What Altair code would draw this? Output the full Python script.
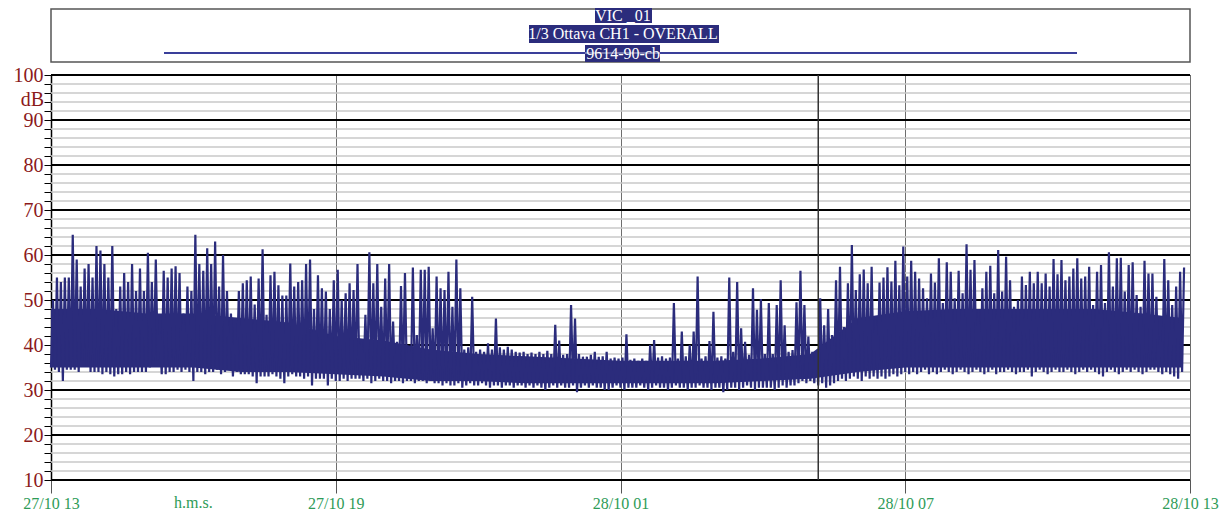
import altair as alt
import pandas as pd

# ---------------- data ----------------
START = pd.Timestamp("2023-10-27 13:00:00")
STEP_MIN = 5  # one floor/peak pair every 5 minutes

# peak level (dB) in each 5-minute slot, 27/10 13:00 -> 28/10 12:50
peak_db = [
    50, 55, 54, 55, 55, 64.5, 59, 53, 57, 58,
    55, 62, 61, 58, 55, 62, 48, 53, 56, 54,
    58, 52, 57, 52, 60.5, 54, 59, 43, 56.5, 55,
    57, 57.5, 56, 47, 53, 52, 64.5, 58, 56.5, 61.5,
    58, 63, 53, 60, 52, 47, 44, 52,
    53.7, 54.4, 55.2, 49, 54.8, 61.3, 46.7, 55.5, 56.3, 53.3,
    51, 51, 58.1, 53, 54, 54.4, 58, 59, 48, 55.5,
    52.6, 51.9, 48, 54.4, 56.7, 50, 51.5, 53.7, 52.2, 58,
    40.7, 46.7, 60.6, 53.7, 58, 48.5, 54.8, 58, 45.2, 40.7,
    53.1, 56, 39.3, 57.2, 42.2, 56.7, 56.7, 57.4, 43.7, 55.2,
    52.6, 52.2, 56.3, 48.5, 59, 52.6, 39, 39.5, 50.7, 38.5,
    39, 38.5, 40.4, 39, 45.9, 39.5, 39, 39.6, 39, 38.5,
    38.3, 38.5, 38, 38.3, 38, 38.5, 38, 38.7, 38, 44.5,
    41, 37.8, 38, 48.9, 45.9, 38, 37.4, 37.4, 37.8, 38.5,
    37.4, 37.5, 38.5, 37, 37.2, 37, 37.2, 42.4, 36.7,
    37, 36.5, 37, 36.5, 40, 41.1, 37.2, 37.5, 37, 37.2,
    49.3, 37, 43, 37.5, 40, 43, 55.2, 37, 37.5, 40.9,
    47.4, 37.2, 37.5, 37, 55, 38.5, 54, 43.7, 40.7, 37.8,
    52.6, 47.8, 50.2, 38, 49.3, 38, 48.9, 54.4, 44.4, 38.5,
    38.9, 49.5, 56.5, 48.9, 41.9, 38.5, 38.5, 50.4, 44.4, 48,
    42.2, 54.4, 57.4, 44, 53.7, 62.2, 52.2, 55.7, 56.8, 53.7,
    57.4, 46.3, 53.9, 55, 57.3, 54.1, 58.7, 53.3, 61.9, 55.2,
    58.7, 56.3, 54.8, 52.6, 50.4, 55.9, 53.9, 59.3, 49.3, 58.4,
    56.3, 50.4, 56.5, 51.5, 62.4, 56.7, 58.9, 48, 52.6, 56.3,
    57.6, 51.5, 61.1, 51.9, 59.6, 54.4, 48.5, 50, 55.2,
    53.3, 56.3, 53.7, 56.3, 53.7, 55.9, 53, 59.1, 55.7, 58.9,
    54.4, 55.2, 57, 59.3, 54.8, 55.2, 57.4, 48.9, 56.3, 57.8,
    49.3, 60.6, 53, 59.3, 59.4, 51.9, 57.8, 58.4, 51.1, 48.5,
    58.7, 55.9, 55.9, 50.7, 41.9, 59.1, 54.4, 48.9, 53, 56.3,
    57.2,
]

# floor level (dB) in each 5-minute slot
floor_db = [
    35, 34.5, 34, 32, 34.5, 34.5, 34.5, 34, 36.5, 35.5,
    34, 34, 34, 33.5, 34, 33.5, 33, 33.5, 33.5, 34,
    33.5, 34, 34, 34, 34, 35, 36.5, 36.5, 33.5, 33.5,
    34, 34, 34.5, 34, 34.5, 34, 32, 34, 34, 33.5,
    34, 34, 34.5, 33.5, 34, 34.5, 33, 34,
    33.5, 33.5, 33.5, 33, 31.5, 33, 33, 33, 33.5, 33,
    32.5, 31.5, 33, 33.5, 33, 33, 32.5, 33, 31, 32.5,
    32.5, 32.5, 31, 32.5, 32, 32, 32.5, 32, 32.5, 32.5,
    32.5, 32, 32.5, 31.5, 32, 32.5, 32, 32, 31.5, 32,
    32, 31.5, 32, 32, 31.5, 32, 32, 31.5, 32, 31.5,
    31.5, 31, 31.5, 31, 31, 31.5, 30.5, 31, 31.5, 31,
    31, 31.5, 31, 30.5, 31, 31, 30.5, 31, 31, 30.5,
    31, 31, 30.5, 31, 30.5, 31, 30.5, 30, 30.5, 31,
    30.5, 31, 30.5, 30.5, 31, 29.5, 30.5, 31, 30.5, 31,
    30.5, 30.5, 30, 30, 30.5, 31, 30.5, 30, 30.5,
    30.5, 30.5, 31, 30.5, 30, 30.5, 31, 30.5, 30.5, 30,
    30.5, 31, 30.5, 30.5, 30, 30.5, 30.5, 31, 30.5, 30.5,
    30, 30.5, 30.5, 29.5, 30, 30.5, 30.5, 30, 30.5, 31,
    30.5, 30, 30.5, 30.5, 30.5, 30.5, 30, 30.5, 31, 30.5,
    31, 31, 31.5, 32, 31.5, 32, 31.5, 31, 31.5, 30.5,
    31, 31.5, 32, 32.5, 32, 32.5, 33, 32.5, 32, 33,
    32.5, 33, 32.5, 33, 32.5, 33, 33.5, 33, 33.5, 34,
    33.5, 34, 33.5, 34, 34.5, 33.5, 34, 33.5, 34, 34.5,
    34, 33.5, 34, 34.5, 34, 33.5, 34, 34.5, 34, 33.5,
    34, 34.5, 33.5, 34, 34, 34.5, 34, 33.5, 34,
    34, 34.5, 33, 34, 34.5, 34, 33.5, 34, 34.5, 34,
    34, 34.5, 34, 33.5, 34, 34.5, 34, 34.5, 34, 33.5,
    33, 34, 34.5, 34, 33.5, 34, 34.5, 34, 34.5, 34,
    33.5, 34, 34.5, 34.5, 34, 33.5, 34, 33.5, 33, 32.5,
    34,
]
assert len(peak_db) == len(floor_db)

# dense (solid) part of the trace, hour by hour: 13h ... 12h, then 12:50
band_times = [
    "2023-10-27T13:00:00Z", "2023-10-27T14:00:00Z", "2023-10-27T15:00:00Z",
    "2023-10-27T16:00:00Z", "2023-10-27T17:00:00Z", "2023-10-27T18:00:00Z",
    "2023-10-27T19:00:00Z", "2023-10-27T20:00:00Z", "2023-10-27T21:00:00Z",
    "2023-10-27T22:00:00Z", "2023-10-27T23:00:00Z", "2023-10-28T00:00:00Z",
    "2023-10-28T01:00:00Z", "2023-10-28T02:00:00Z", "2023-10-28T03:00:00Z",
    "2023-10-28T04:00:00Z", "2023-10-28T05:00:00Z", "2023-10-28T06:00:00Z",
    "2023-10-28T07:00:00Z", "2023-10-28T08:00:00Z", "2023-10-28T09:00:00Z",
    "2023-10-28T10:00:00Z", "2023-10-28T11:00:00Z", "2023-10-28T12:00:00Z",
    "2023-10-28T12:50:00Z",
]
band_top_db = [48, 48, 47, 47, 46, 45, 42, 41, 39, 38, 37.5, 37,
               36.5, 36.5, 36.5, 37, 38, 46, 47.5, 48, 48, 48, 48, 47, 46]
band_bottom_db = [35, 35, 35, 35, 34, 34, 33.5, 33, 32, 32, 31.5, 31.5,
                  31.5, 31.5, 31.5, 32, 32.5, 34, 35, 35, 35, 35, 35, 35, 35]

y_major = [10, 20, 30, 40, 50, 60, 70, 80, 90, 100]
y_minor = [v for v in range(10, 101, 2) if v % 10 != 0]
y_tick_values = list(range(10, 101, 2))
x_tick_hours = [(2023, 10, 27, 13), (2023, 10, 27, 19), (2023, 10, 28, 1),
                (2023, 10, 28, 7), (2023, 10, 28, 13)]
cursor_time = ["2023-10-28T05:10:00Z"]
unit_label = {"t": ["2023-10-27T16:00:00Z"], "txt": ["h.m.s."]}
db_label = {"db": [94.5], "txt": ["dB"]}
title_lines = ["VIC _01", "1/3 Ottava CH1 - OVERALL", "9614-90-cb"]

# ---------------- build tables ----------------
rows = []
for i, (lo, hi) in enumerate(zip(floor_db, peak_db)):
    t0 = START + pd.Timedelta(minutes=STEP_MIN * i)
    t1 = t0 + pd.Timedelta(seconds=STEP_MIN * 30)
    rows.append({"t": t0.strftime("%Y-%m-%dT%H:%M:%SZ"), "db": lo})
    rows.append({"t": t1.strftime("%Y-%m-%dT%H:%M:%SZ"), "db": hi})
series = pd.DataFrame(rows)
band = pd.DataFrame({"t": band_times, "db": band_top_db, "db2": band_bottom_db})

# ---------------- style ----------------
W, H = 1139, 405
NAVY = "#2b2c7c"
RED = "#8b1a1a"
GREEN = "#2e9b57"
FONT = "Liberation Serif"


def dt(y, mo, d, h):
    return alt.DateTime(year=y, month=mo, date=d, hours=h, minutes=0, utc=True)


x_domain = [dt(*x_tick_hours[0]), dt(*x_tick_hours[-1])]
x_scale = alt.Scale(type="utc", domain=x_domain, nice=False)
y_scale = alt.Scale(domain=[10, 100], nice=False, zero=False)

x_axis = alt.Axis(
    values=[dt(*h) for h in x_tick_hours],
    format="%d/%m %H",
    labelFont=FONT, labelFontSize=16, labelColor=GREEN,
    labelFlush=False, labelOverlap=False, labelPadding=2,
    tickSize=13, tickColor="#555555", tickWidth=1,
    grid=True, gridColor="#6e6e6e", gridWidth=1,
    domain=False, title=None,
)
y_axis = alt.Axis(
    values=y_tick_values,
    labelExpr="datum.value % 10 === 0 ? datum.label : ''",
    labelFont=FONT, labelFontSize=20, labelColor=RED,
    labelOverlap=False, labelPadding=1, labelBound=False,
    tickSize=7, tickColor="black", tickWidth=1,
    domainColor="black", domainWidth=1.5,
    grid=False, title=None,
)

X = alt.X("t:T", scale=x_scale, axis=x_axis, title=None)
Y = alt.Y("db:Q", scale=y_scale, axis=y_axis, title=None)

minor = alt.Chart(pd.DataFrame({"db": y_minor})).mark_rule(
    color="#c8c8c8", strokeWidth=1.5).encode(y=Y)
major = alt.Chart(pd.DataFrame({"db": y_major})).mark_rule(
    color="black", strokeWidth=2).encode(y=Y)

dense = alt.Chart(band).mark_area(color=NAVY, opacity=1, interpolate="linear").encode(
    x=X, y=Y, y2="db2:Q")

line = alt.Chart(series).mark_line(
    color=NAVY, strokeWidth=2.2, interpolate="linear", strokeJoin="miter",
    strokeMiterLimit=2).encode(x=X, y=Y)

cursor = alt.Chart(pd.DataFrame({"t": cursor_time})).mark_rule(
    color="#333333", strokeWidth=1.5).encode(x=X)

db_text = alt.Chart(pd.DataFrame(db_label)).mark_text(
    align="right", baseline="middle", font=FONT, fontSize=20, color=RED
).encode(y=Y, x=alt.value(-7), text="txt:N")

hms_text = alt.Chart(pd.DataFrame(unit_label)).mark_text(
    align="center", baseline="top", font=FONT, fontSize=16, color=GREEN
).encode(x=X, y=alt.value(H + 15), text="txt:N")

# title box
one = pd.DataFrame({"k": [0]})
box = alt.Chart(one).mark_rect(fill="white", stroke="#555555", strokeWidth=1.5).encode(
    x=alt.value(0), x2=alt.value(W), y=alt.value(-66), y2=alt.value(-13))
title_rule = alt.Chart(one).mark_rule(color="#3a3f9a", strokeWidth=2).encode(
    x=alt.value(113), x2=alt.value(1026), y=alt.value(-22))
title_rule_light = alt.Chart(one).mark_rule(color="#b8bad8", strokeWidth=1).encode(
    x=alt.value(534), x2=alt.value(609), y=alt.value(-22))

bg_specs = [(544, 601, -67, -52), (478, 668, -50, -32), (534, 609, -30, -13)]
text_y = [-59.5, -41, -21.5]
title_bg = []
title_txt = []
for (x1, x2, y1, y2), ty, txt in zip(bg_specs, text_y, title_lines):
    title_bg.append(
        alt.Chart(one).mark_rect(fill=NAVY).encode(
            x=alt.value(x1), x2=alt.value(x2), y=alt.value(y1), y2=alt.value(y2)))
    title_txt.append(
        alt.Chart(pd.DataFrame({"txt": [txt]})).mark_text(
            align="center", baseline="middle", font=FONT, fontSize=16, color="white"
        ).encode(x=alt.value(572), y=alt.value(ty), text="txt:N"))

chart = alt.layer(
    minor, major, dense, line, cursor, db_text, hms_text, box, title_rule,
    *title_bg, title_rule_light, *title_txt
).properties(
    width=W, height=H,
    padding={"left": 43, "top": 67, "right": 33, "bottom": 36},
    autosize=alt.AutoSizeParams(type="none"),
).configure_view(stroke="#222222", strokeWidth=1)

chart.save("out.html", embed_options={"renderer": "svg", "actions": False})
